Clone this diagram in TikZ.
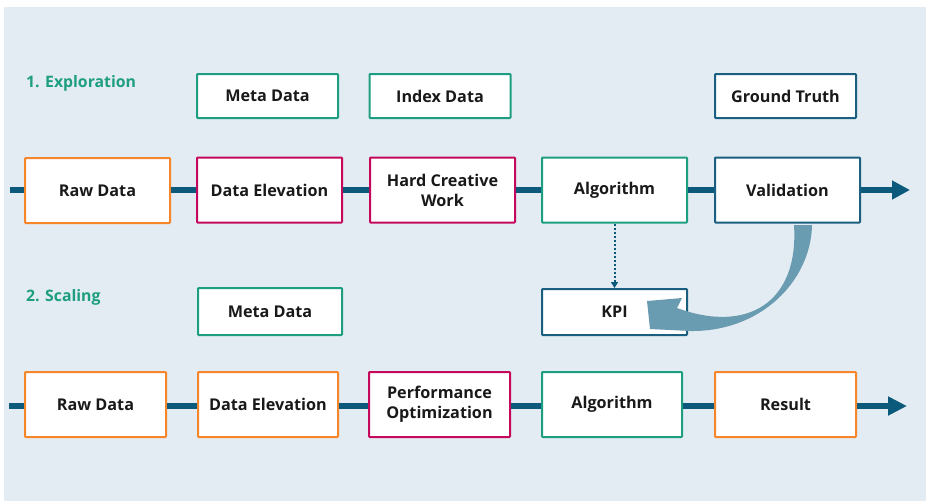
\documentclass[tikz,border=0pt]{standalone}
\usepackage{fontspec}
\setmainfont{Open Sans}
\usetikzlibrary{arrows.meta}
\definecolor{bgc}{HTML}{E3ECF2}
\definecolor{grn}{HTML}{1E9E80}
\definecolor{org}{HTML}{F5862A}
\definecolor{mag}{HTML}{C4095C}
\definecolor{dblue}{HTML}{0B5A7C}
\definecolor{vblue}{HTML}{1A5F80}
\definecolor{carrow}{HTML}{6A9CB1}
\tikzset{
  box/.style={draw, line width=2pt, fill=white, rounded corners=0.8pt, inner sep=0pt,
    font=\fontsize{16.2}{20}\selectfont\bfseries, align=center, text=black!90},
  rowbox/.style={box, minimum width=145pt, minimum height=65pt},
  topbox/.style={box, minimum width=141pt, minimum height=44pt},
  mainline/.style={draw=dblue, line width=6pt},
  title/.style={text=grn, font=\fontsize{15.8}{18}\selectfont\bfseries, anchor=west, inner sep=0pt},
}
\begin{document}
\begin{tikzpicture}[x=1pt,y=-1pt]
\useasboundingbox (0,0) rectangle (926,501);
\fill[bgc] (4,7) rectangle (926,501);

% titles
\node[title] (t1) at (26,83) {1. Exploration};
\node[title] (t2) at (26,297) {2. Scaling};

% top boxes row 1
\node[topbox, draw=grn] (meta1) at (267.5,96) {Meta Data};
\node[topbox, draw=grn] (index) at (440,96) {Index Data};
\node[topbox, draw=vblue] (gt) at (785.5,96) {Ground Truth};

% row 1
\coordinate (s1) at (10,190);
\coordinate (e1) at (910,190);
\node[rowbox, draw=org] (raw1) at (97.5,190.5) {Raw Data};
\node[rowbox, draw=mag] (elev1) at (269.5,190) {Data Elevation};
\node[rowbox, draw=mag] (hcw) at (442.5,190) {Hard Creative\\Work};
\node[rowbox, draw=grn] (alg1) at (614.5,190) {Algorithm};
\node[rowbox, draw=vblue] (val) at (787.5,190) {Validation};

% KPI & meta 2
\node[box, draw=vblue, minimum width=145pt, minimum height=46pt] (kpi) at (614.5,312) {KPI};
\node[box, draw=grn, minimum width=144pt, minimum height=47pt] (meta2) at (270,311.5) {Meta Data};

% row 2
\coordinate (s2) at (9,406);
\coordinate (e2) at (907,406);
\node[rowbox, draw=org, minimum width=141pt] (raw2) at (95.5,404.5) {Raw Data};
\node[rowbox, draw=org, minimum width=140pt] (elev2) at (268,404.5) {Data Elevation};
\node[rowbox, draw=mag, minimum width=141pt] (perf) at (439.5,404.5) {Performance\\Optimization};
\node[rowbox, draw=grn, minimum width=140pt] (alg2) at (612,404.5) {Algorithm};
\node[rowbox, draw=org, minimum width=141pt] (res) at (785.5,404.5) {Result};

% main lines row 1
\draw[mainline] (s1) -- (raw1.west |- s1);
\draw[mainline] (raw1.east |- s1) -- (elev1.west |- s1);
\draw[mainline] (elev1.east |- s1) -- (hcw.west |- s1);
\draw[mainline] (hcw.east |- s1) -- (alg1.west |- s1);
\draw[mainline] (alg1.east |- s1) -- (val.west |- s1);
\draw[mainline, -{Triangle[length=18pt,width=18pt]}] (val.east |- s1) -- (e1);

% main lines row 2
\draw[mainline] (s2) -- (raw2.west |- s2);
\draw[mainline] (raw2.east |- s2) -- (elev2.west |- s2);
\draw[mainline] (elev2.east |- s2) -- (perf.west |- s2);
\draw[mainline] (perf.east |- s2) -- (alg2.west |- s2);
\draw[mainline] (alg2.east |- s2) -- (res.west |- s2);
\draw[mainline, -{Triangle[length=19pt,width=18pt]}] (res.east |- s2) -- (e2);

% dotted arrow
\draw[dblue, line width=2pt, dotted, -{Triangle[length=6pt,width=7pt]}] (alg1.south) -- (kpi.north);

% curved feedback arrow
\fill[carrow] (794,225) -- (812,225)
  .. controls (811,280) and (762,332) .. (690,331)
  -- (650,329) -- (647,301) -- (682,298) -- (677,308)
  .. controls (748,334) and (799,302) .. (794,225) -- cycle;
\end{tikzpicture}
\end{document}
